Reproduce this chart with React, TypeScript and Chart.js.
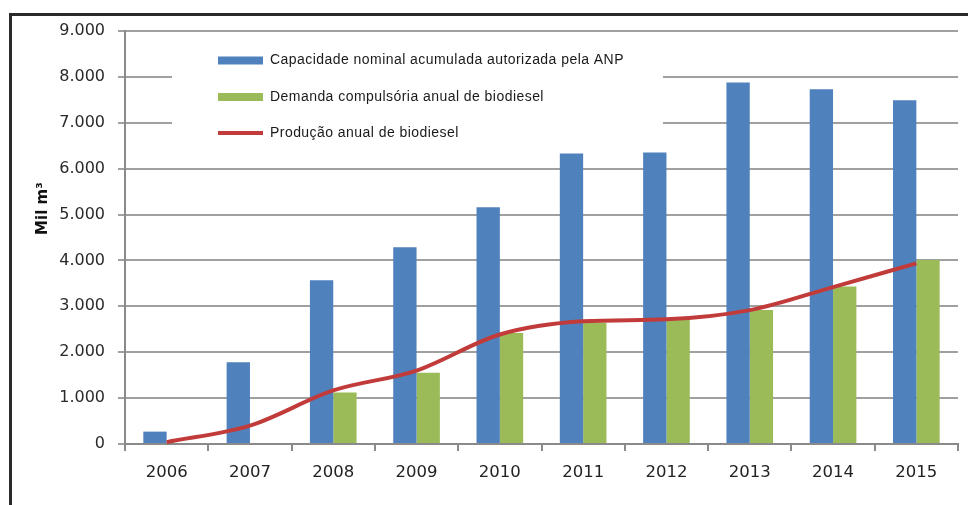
import React, { useEffect, useRef } from "react";
import { Chart, registerables } from "chart.js";

Chart.register(...registerables);

const years = ["2006", "2007", "2008", "2009", "2010", "2011", "2012", "2013", "2014", "2015"];
const capacidade = [270, 1780, 3570, 4290, 5160, 6330, 6350, 7880, 7730, 7490];
const demanda: (number | null)[] = [null, null, 1120, 1550, 2420, 2640, 2700, 2920, 3430, 4010];
const producao = [40, 400, 1167, 1600, 2386, 2673, 2717, 2917, 3420, 3937];
const yMin = 0;
const yMax = 9000;
const yStep = 1000;
const legendLabels = [
  "Capacidade nominal acumulada autorizada pela ANP",
  "Demanda compulsória anual de biodiesel",
  "Produção anual de biodiesel",
];
const yAxisTitle = "Mil m³";

const BLUE = "#4F81BD";
const GREEN = "#9BBB59";
const RED = "#C23B3B";

const fmt = (v: number) => String(v).replace(/\B(?=(\d{3})+(?!\d))/g, ".");

const decorPlugin = {
  id: "decor",
  beforeDatasetsDraw(chart: any) {
    const ctx = chart.ctx as CanvasRenderingContext2D;
    const { left, top } = chart.chartArea;
    ctx.save();
    // legend box (white, hides gridlines)
    ctx.fillStyle = "#ffffff";
    ctx.fillRect(left + 47, top + 14, 491, 105);
    const sx = left + 93;
    const tx = left + 145;
    const rows = [top + 29.5, top + 66, top + 102];
    const colors = [BLUE, GREEN, RED];
    rows.forEach((y, i) => {
      ctx.fillStyle = colors[i];
      if (i < 2) {
        ctx.fillRect(sx, y - 4, 45, 8);
      } else {
        ctx.fillRect(sx, y - 2, 45, 4);
      }
      ctx.fillStyle = "#1a1a1a";
      ctx.font = "14px 'Liberation Sans', Arial, sans-serif";
      (ctx as any).letterSpacing = "0.45px";
      ctx.textAlign = "left";
      ctx.textBaseline = "middle";
      ctx.fillText(legendLabels[i], tx, y);
    });
    ctx.restore();
  },
  afterDraw(chart: any) {
    const ctx = chart.ctx as CanvasRenderingContext2D;
    const { left, top, bottom } = chart.chartArea;
    ctx.save();
    // y-axis title
    ctx.translate(left - 82, top + (bottom - top) * 0.43);
    ctx.rotate(-Math.PI / 2);
    ctx.fillStyle = "#111";
    ctx.font = "bold 15px 'DejaVu Sans', Verdana, sans-serif";
    ctx.textAlign = "center";
    ctx.textBaseline = "middle";
    ctx.fillText(yAxisTitle, 0, 0);
    ctx.restore();
    // outer frame (top and left)
    ctx.save();
    ctx.fillStyle = "#2a2a2a";
    ctx.fillRect(9, 13, chart.width, 3);
    ctx.fillRect(9, 13, 3, chart.height);
    ctx.restore();
  },
};

export default function App() {
  const ref = useRef<HTMLCanvasElement | null>(null);

  useEffect(() => {
    if (!ref.current) return;
    const chart = new Chart(ref.current, {
      type: "bar",
      data: {
        labels: years,
        datasets: [
          {
            type: "line",
            label: legendLabels[2],
            data: producao,
            borderColor: RED,
            backgroundColor: RED,
            borderWidth: 4,
            pointRadius: 0,
            cubicInterpolationMode: "monotone",
            order: 0,
          } as any,
          {
            type: "bar",
            label: legendLabels[0],
            data: capacidade,
            backgroundColor: BLUE,
            borderWidth: 0,
            categoryPercentage: 0.56,
            barPercentage: 1,
            order: 1,
          },
          {
            type: "bar",
            label: legendLabels[1],
            data: demanda,
            backgroundColor: GREEN,
            borderWidth: 0,
            categoryPercentage: 0.56,
            barPercentage: 1,
            order: 1,
          },
        ],
      },
      options: {
        responsive: false,
        animation: false,
        devicePixelRatio: 1,
        layout: { padding: { top: 31, right: 10, bottom: 21, left: 0 } },
        plugins: {
          legend: { display: false },
          tooltip: { enabled: false },
          title: { display: false },
        },
        scales: {
          x: {
            offset: true,
            grid: {
              display: true,
              drawOnChartArea: false,
              drawTicks: true,
              tickLength: 7,
              offset: true,
              color: "#8a8a8a",
              lineWidth: 2,
            },
            border: { display: true, color: "#8a8a8a", width: 2 },
            ticks: {
              color: "#222",
              padding: 12,
              font: { family: "'DejaVu Sans', Verdana, sans-serif", size: 16.5 },
            },
            afterFit: (s: any) => {
              s.height = 40;
            },
          },
          y: {
            min: yMin,
            max: yMax,
            ticks: {
              stepSize: yStep,
              color: "#2a2a2a",
              padding: 13,
              font: { family: "'DejaVu Sans', Verdana, sans-serif", size: 16 },
              callback: (v: any) => fmt(Number(v)),
            },
            grid: {
              color: "#a0a0a0",
              lineWidth: 2,
              drawTicks: true,
              tickLength: 7,
            },
            border: { display: true, color: "#8a8a8a", width: 2 },
            afterFit: (s: any) => {
              s.width = 125;
            },
          },
        },
      },
      plugins: [decorPlugin],
    });
    return () => chart.destroy();
  }, []);

  return (
    <div style={{ position: "fixed", left: 0, top: 0, width: 968, height: 505, background: "#fff" }}>
      <canvas ref={ref} width={968} height={505} style={{ width: 968, height: 505, display: "block" }} />
    </div>
  );
}
